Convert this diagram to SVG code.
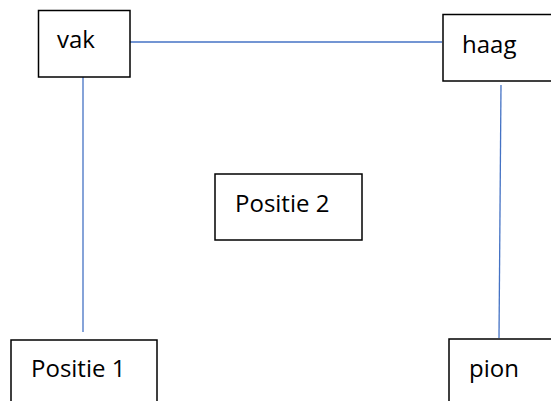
<svg xmlns="http://www.w3.org/2000/svg" width="551" height="401" viewBox="0 0 551 401">
<style>
.box{fill:#fff;stroke:#000;stroke-width:1.5}
.lbl{font-family:"Open Sans","Liberation Sans",sans-serif;font-size:24px;fill:#000}
.con{stroke:#4472C4;stroke-width:1.3;fill:none}
</style>
<rect width="551" height="401" fill="#fff"/>
<g id="connectors">
<line class="con" x1="130" y1="42" x2="442" y2="42"/>
<line class="con" x1="83" y1="77" x2="83" y2="332"/>
<line class="con" x1="501" y1="85" x2="499" y2="338"/>
</g>
<g id="vak"><rect class="box" x="38.5" y="10.5" width="91.5" height="66.5"/><text class="lbl" x="57" y="48">vak</text></g>
<g id="haag"><rect class="box" x="443" y="14.5" width="112" height="66.5"/><text class="lbl" x="462" y="53">haag</text></g>
<g id="positie2"><rect class="box" x="215" y="174" width="147" height="66"/><text class="lbl" x="235" y="212">Positie 2</text></g>
<g id="positie1"><rect class="box" x="11" y="340" width="146" height="70"/><text class="lbl" x="31" y="377">Positie 1</text></g>
<g id="pion"><rect class="box" x="449" y="339" width="110" height="70"/><text class="lbl" x="469" y="377">pion</text></g>
</svg>
